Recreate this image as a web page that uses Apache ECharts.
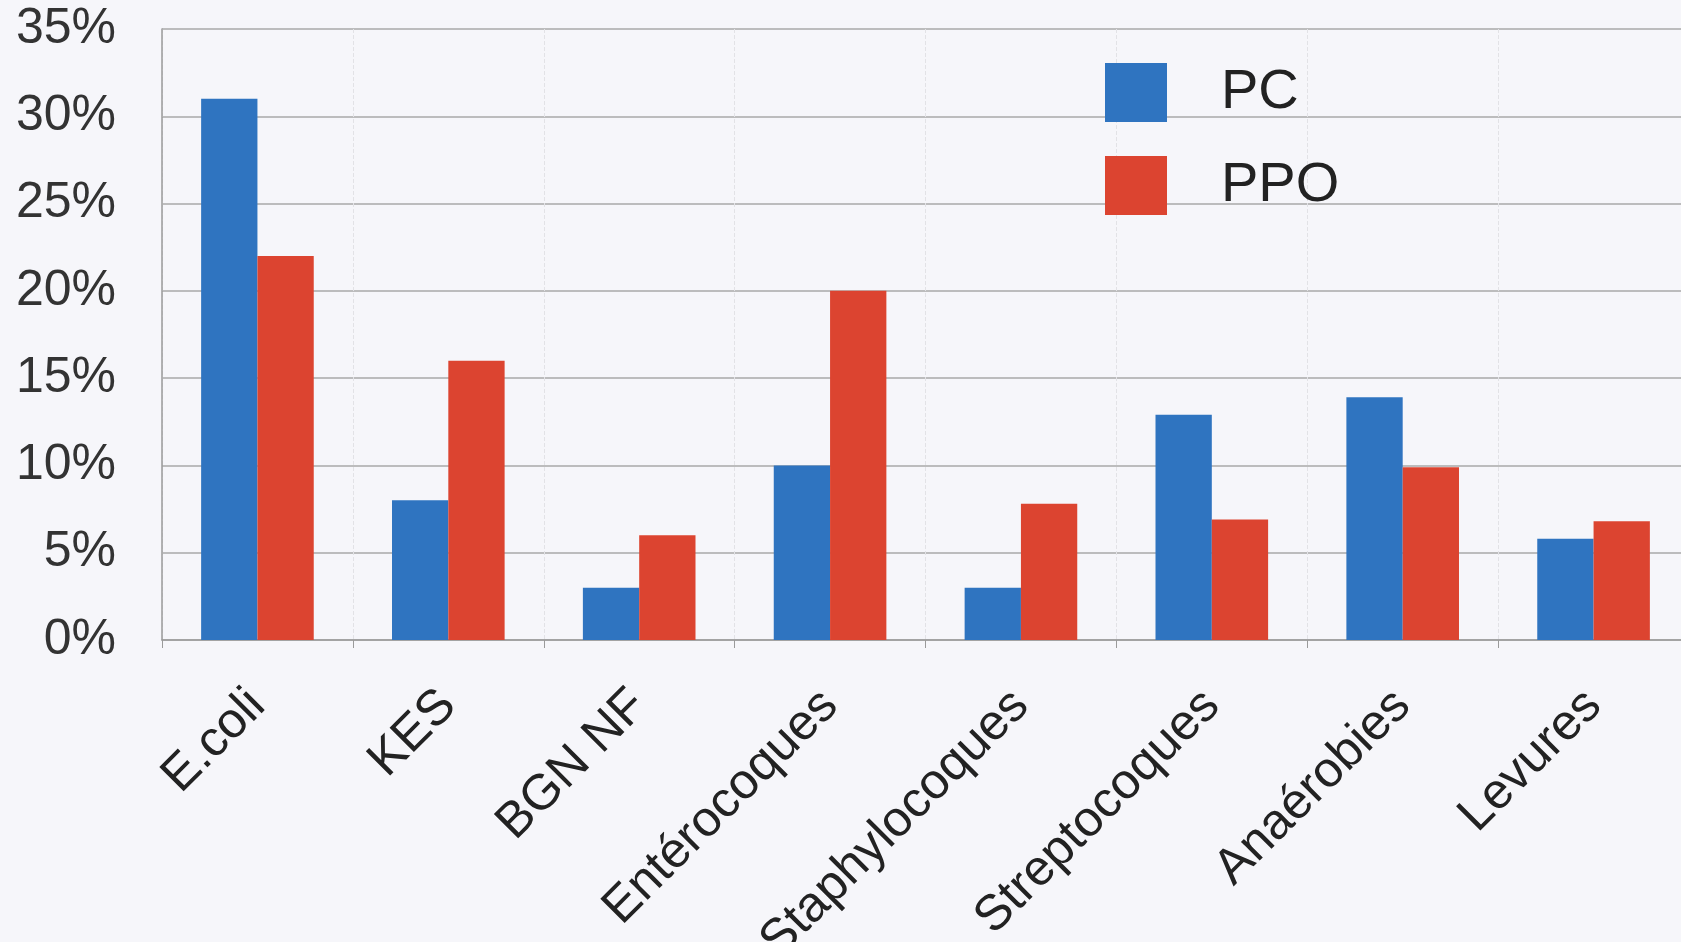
<!DOCTYPE html>
<html>
<head>
<meta charset="utf-8">
<script src="https://cdn.jsdelivr.net/npm/echarts@6/dist/echarts.min.js"></script>
<style>
html,body{margin:0;padding:0;background:#f6f6fa;}
#chart{width:1681px;height:942px;}
</style>
</head>
<body>
<div id="chart"></div>
<script>
var categories = ['E.coli', 'KES', 'BGN NF', 'Entérocoques', 'Staphylocoques', 'Streptocoques', 'Anaérobies', 'Levures'];
var pcValues = [31, 8, 3, 10, 3, 12.9, 13.9, 5.8];
var ppoValues = [22, 16, 6, 20, 7.8, 6.9, 9.9, 6.8];
var seriesNames = ['PC', 'PPO'];
var yTicks = [0, 5, 10, 15, 20, 25, 30, 35];

var chart = echarts.init(document.getElementById('chart'));
var font = 'Liberation Sans, Arial, sans-serif';
chart.setOption({
  backgroundColor: '#f6f6fa',
  animation: false,
  grid: { left: 162, top: 29, width: 1527, bottom: 302, containLabel: false, outerBoundsMode: 'none' },
  legend: {
    data: seriesNames,
    orient: 'vertical',
    left: 1100, top: 58,
    itemWidth: 62, itemHeight: 59, itemGap: 34,
    icon: 'rect',
    textStyle: { fontSize: 56, color: '#222', fontFamily: font, padding: [0, 0, 0, 49] }
  },
  xAxis: {
    type: 'category',
    data: categories,
    axisLine: { show: true, lineStyle: { color: '#9a9a9a', width: 1.5 } },
    axisTick: { show: true, length: 8, lineStyle: { color: '#9a9a9a' } },
    splitLine: { show: true, lineStyle: { color: '#e2e2e6', type: 'dashed' } },
    axisLabel: { rotate: 45, fontSize: 50, color: '#222', fontFamily: font, margin: 58, interval: 0 }
  },
  yAxis: {
    type: 'value',
    min: yTicks[0], max: yTicks[yTicks.length - 1], interval: 5,
    axisLine: { show: true, lineStyle: { color: '#9a9a9a', width: 1.5 } },
    axisTick: { show: false },
    splitLine: { lineStyle: { color: '#a8a8a8', width: 1.5 } },
    axisLabel: { fontSize: 50, color: '#333', fontFamily: font, margin: 46, formatter: '{value}%' }
  },
  series: [
    { name: seriesNames[0], type: 'bar', data: pcValues, barGap: '0%', barCategoryGap: '41%', itemStyle: { color: '#2f74c0' } },
    { name: seriesNames[1], type: 'bar', data: ppoValues, itemStyle: { color: '#dc4430' } }
  ]
});
</script>
</body>
</html>
